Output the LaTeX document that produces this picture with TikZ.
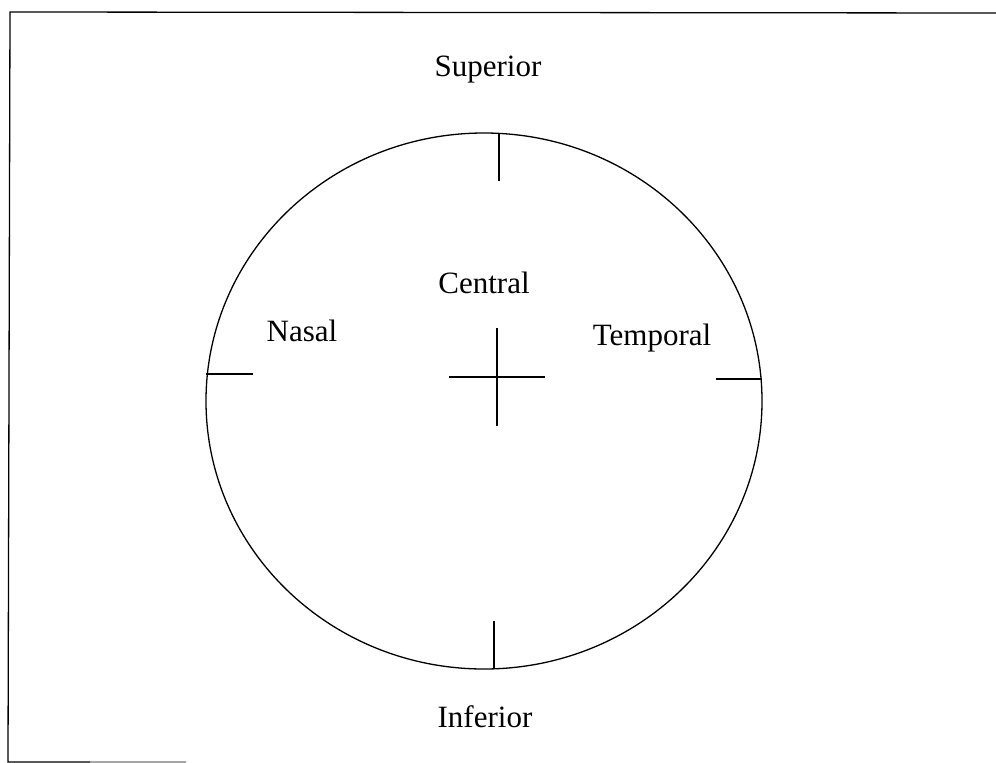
\documentclass[tikz,border=0pt]{standalone}
\usepackage{fontspec}
\setmainfont{Liberation Serif}
\begin{document}
\begin{tikzpicture}[x=1pt,y=-1pt,
  lbl/.style={font=\fontsize{31}{36}\selectfont, inner sep=0pt, anchor=base},
  ln/.style={line width=1.3pt, black}]
\useasboundingbox (0,0) rectangle (996,763);
% frame
\draw[ln] (996,13) -- (10,12) -- (8,762) -- (90,762);
\draw[line width=1.3pt, black!35] (90,762) -- (186,762);
% circle
\draw[ln] (484,401) ellipse [x radius=278, y radius=268];
% ticks
\draw[ln] (499,133) -- (499,181);
\draw[ln] (494,621) -- (494,669);
\draw[ln] (206,374) -- (253,374);
\draw[ln] (716,379) -- (762,379);
% central cross
\draw[ln] (497,328) -- (497,426);
\draw[ln] (449,377) -- (545,377);
% labels
\node[lbl] (sup) at (488,76) {Superior};
\node[lbl] (cen) at (484,293) {Central};
\node[lbl] (nas) at (302,341) {Nasal};
\node[lbl] (tem) at (652,345) {Temporal};
\node[lbl] (inf) at (485,727) {Inferior};
\end{tikzpicture}
\end{document}
